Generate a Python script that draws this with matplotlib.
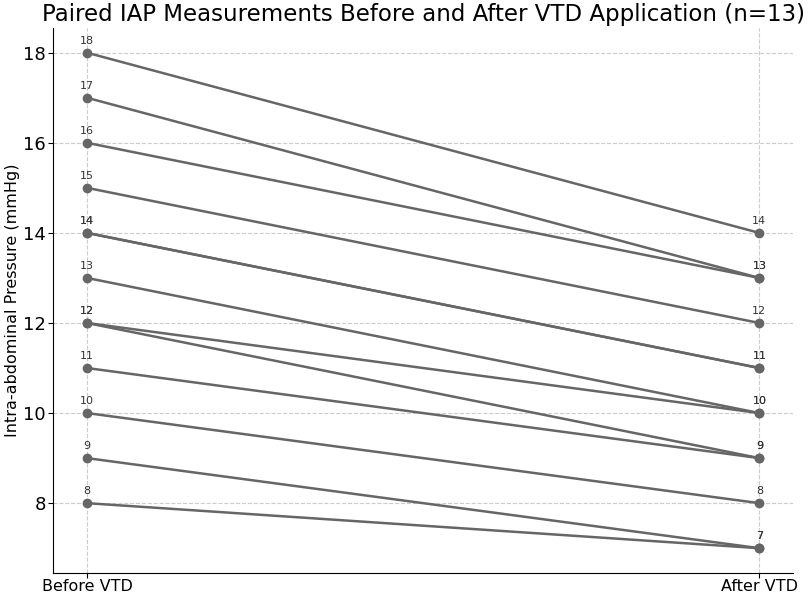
import matplotlib
matplotlib.use("Agg")
import matplotlib.pyplot as plt

before = [18, 17, 16, 15, 14, 14, 13, 12, 12, 11, 10, 9, 8]
after = [14, 13, 13, 12, 11, 11, 10, 10, 9, 9, 8, 7, 7]
xlabels = ["Before VTD", "After VTD"]
yticks = [8, 10, 12, 14, 16, 18]

fig = plt.figure(figsize=(8.1, 5.95), dpi=100)
ax = fig.add_axes([0.066, 0.037, 0.913, 0.916])

col = "#666666"
for b, a in zip(before, after):
    ax.plot([0, 1], [b, a], color=col, lw=1.8, marker="o", ms=6, zorder=3)
    ax.annotate(str(b), (0, b), xytext=(0, 5), textcoords="offset points",
                ha="center", va="bottom", fontsize=8, color="#333333")
    ax.annotate(str(a), (1, a), xytext=(0, 5), textcoords="offset points",
                ha="center", va="bottom", fontsize=8, color="#333333")

ax.set_xticks([0, 1])
ax.set_xticklabels(xlabels, fontsize=11.5)
ax.tick_params(axis="x", pad=1)
ax.set_yticks(yticks)
ax.tick_params(axis="y", labelsize=13, pad=2)
ax.set_ylabel("Intra-abdominal Pressure (mmHg)", fontsize=11.5)
ax.yaxis.set_label_coords(-0.045, 0.5)
ax.set_title("Paired IAP Measurements Before and After VTD Application (n=13)",
             fontsize=16.5, pad=5)
ax.grid(True, linestyle="--", color="#cccccc", lw=0.8)
ax.set_axisbelow(True)
for s in ["top", "right"]:
    ax.spines[s].set_visible(False)

fig.savefig("out.png", dpi=100)
